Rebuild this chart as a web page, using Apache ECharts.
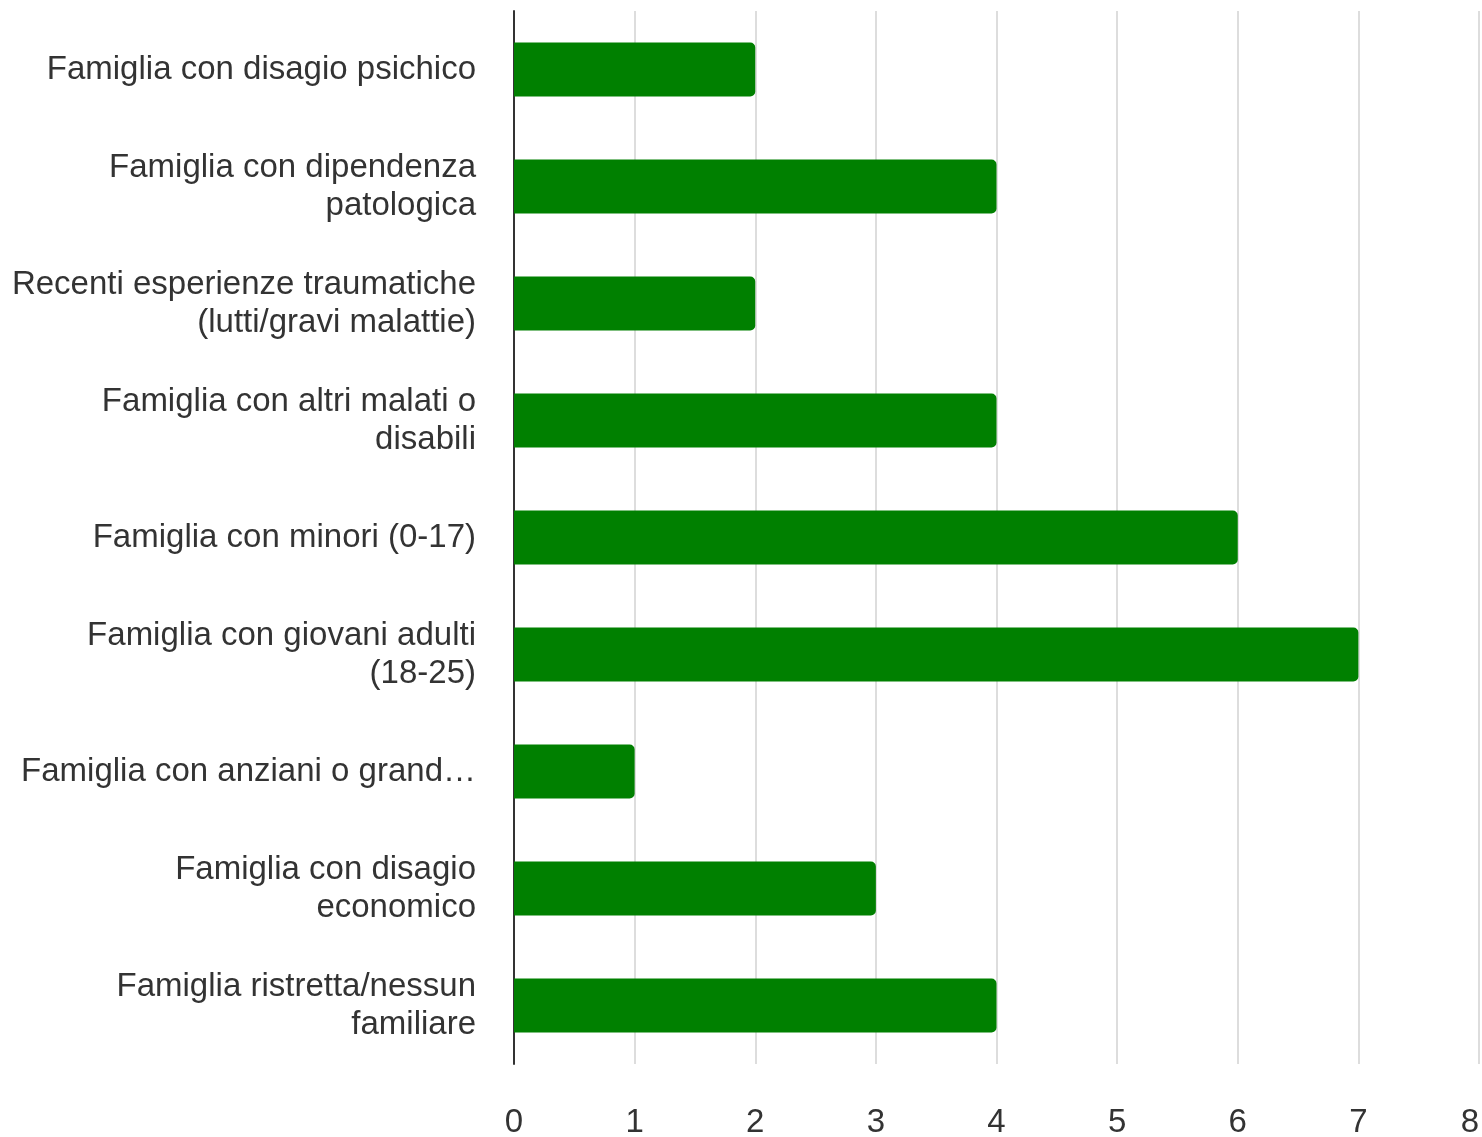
<!DOCTYPE html>
<html>
<head>
<meta charset="utf-8">
<script src="https://cdn.jsdelivr.net/npm/echarts@6/dist/echarts.min.js"></script>
<style>html,body{margin:0;padding:0;background:#fff}#c{width:1482px;height:1137px}</style>
</head>
<body>
<div id="c"></div>
<script>
const categories = [
  "Famiglia con disagio psichico",
  "Famiglia con dipendenza\npatologica",
  "Recenti esperienze traumatiche\n(lutti/gravi malattie)",
  "Famiglia con altri malati o\ndisabili",
  "Famiglia con minori (0-17)",
  "Famiglia con giovani adulti\n(18-25)",
  "Famiglia con anziani o grand…",
  "Famiglia con disagio\neconomico",
  "Famiglia ristretta/nessun\nfamiliare"
];
const values = [2, 4, 2, 4, 6, 7, 1, 3, 4];
const xTicks = { min: 0, max: 8, interval: 1 };

const chart = echarts.init(document.getElementById('c'));
chart.setOption({
  animation: false,
  grid: { left: 514, right: 3, top: 11, bottom: 73, containLabel: false, outerBoundsMode: 'none' },
  xAxis: {
    type: 'value', min: xTicks.min, max: xTicks.max, interval: xTicks.interval,
    axisLine: { show: false }, axisTick: { show: false },
    splitLine: { show: true, lineStyle: { color: '#dddddd', width: 2 } },
    axisLabel: { fontFamily: 'Liberation Sans', fontSize: 33, color: '#333', margin: 42, alignMaxLabel: 'right' }
  },
  yAxis: {
    type: 'category', inverse: true, data: categories,
    axisLine: { show: true, lineStyle: { color: '#333', width: 2 } },
    axisTick: { show: false },
    axisLabel: { fontFamily: 'Liberation Sans', fontSize: 33, color: '#333', margin: 38, lineHeight: 38, align: 'right', padding: [9, 0, 0, 0] }
  },
  series: [{
    type: 'bar', data: values, barWidth: 54,
    itemStyle: { color: '#008000', borderRadius: [0, 5, 5, 0] }
  }]
});
</script>
</body>
</html>
